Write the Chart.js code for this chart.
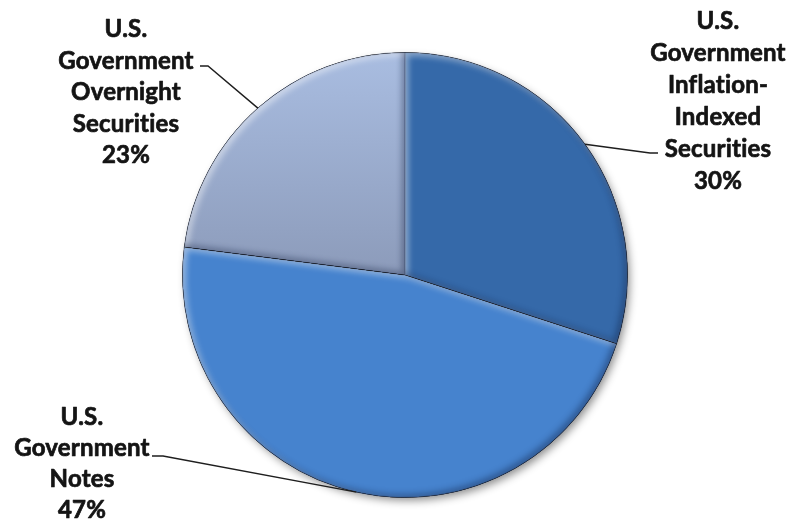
<!DOCTYPE html>
<html>
<head>
<meta charset="utf-8">
<script src="https://cdn.jsdelivr.net/npm/chart.js@4/dist/chart.umd.min.js"></script>
<style>
  html, body { margin: 0; padding: 0; background: #ffffff; }
  canvas { display: block; }
</style>
</head>
<body>
<canvas id="pie" width="787" height="521"></canvas>
<script>
// Holdings by security type, clockwise from 12 o'clock
const categories = [
  'U.S. Government Inflation-Indexed Securities',
  'U.S. Government Notes',
  'U.S. Government Overnight Securities'
];
const shares = [30, 47, 23];
const labelLines = [
  ['U.S.', 'Government', 'Inflation-', 'Indexed', 'Securities'],
  ['U.S.', 'Government', 'Notes'],
  ['U.S.', 'Government', 'Overnight', 'Securities']
];
const sliceColors = ['#3569a9', '#4683ce', '#9cafd3'];

// Where each callout sits: text centre, first baseline, line step, leader elbow
const callouts = [
  { cx: 718, base: 29,    step: 31.9, elbowX: 650, endX: 658, lineY: 153 },
  { cx: 82,  base: 424.5, step: 31.3, elbowX: 163, endX: 152, lineY: 456 },
  { cx: 126, base: 37,    step: 31.5, elbowX: 208, endX: 200, lineY: 66 }
];

const FONT = 'bold 24px Lato, "Liberation Sans", sans-serif';

function slicePath(ctx, p) {
  ctx.beginPath();
  ctx.moveTo(p.x, p.y);
  ctx.arc(p.x, p.y, p.outerRadius, p.startAngle, p.endAngle);
  ctx.closePath();
}

// Soft drop shadow under the whole disc
const discShadow = {
  id: 'discShadow',
  beforeDatasetsDraw(chart) {
    const arcs = chart.getDatasetMeta(0).data;
    if (!arcs.length) return;
    const p = arcs[0].getProps(['x', 'y', 'outerRadius'], true);
    const ctx = chart.ctx;
    ctx.save();
    ctx.shadowColor = 'rgba(0,0,0,0.45)';
    ctx.shadowBlur = 9;
    ctx.shadowOffsetX = 3;
    ctx.shadowOffsetY = 4;
    ctx.fillStyle = '#3a6aa8';
    ctx.beginPath();
    ctx.arc(p.x, p.y, p.outerRadius - 1, 0, Math.PI * 2);
    ctx.fill();
    ctx.restore();
  }
};

// Bevelled rims: light glow on upper-left edges, dark on lower-right edges
const bevel = {
  id: 'bevel',
  afterDatasetsDraw(chart) {
    const ctx = chart.ctx;
    chart.getDatasetMeta(0).data.forEach(arc => {
      const p = arc.getProps(['x', 'y', 'startAngle', 'endAngle', 'outerRadius'], true);
      const passes = [
        { color: 'rgba(255,255,255,0.5)', dx: 3, dy: 3 },
        { color: 'rgba(10,25,60,0.4)', dx: -3, dy: -3 }
      ];
      passes.forEach(s => {
        ctx.save();
        slicePath(ctx, p);
        ctx.clip();
        ctx.beginPath();
        ctx.rect(-2000, -2000, 5000, 5000);
        ctx.moveTo(p.x, p.y);
        ctx.arc(p.x, p.y, p.outerRadius, p.startAngle, p.endAngle);
        ctx.closePath();
        ctx.shadowColor = s.color;
        ctx.shadowBlur = 6;
        ctx.shadowOffsetX = s.dx;
        ctx.shadowOffsetY = s.dy;
        ctx.fillStyle = '#000';
        ctx.fill('evenodd');
        ctx.restore();
      });
    });
  }
};

// Callout text with leader lines from each slice's mid-angle on the rim
const callout = {
  id: 'callout',
  afterDraw(chart) {
    const ctx = chart.ctx;
    chart.getDatasetMeta(0).data.forEach((arc, i) => {
      const p = arc.getProps(['x', 'y', 'startAngle', 'endAngle', 'outerRadius'], true);
      const mid = (p.startAngle + p.endAngle) / 2;
      const ax = p.x + Math.cos(mid) * p.outerRadius;
      const ay = p.y + Math.sin(mid) * p.outerRadius;
      const c = callouts[i];

      ctx.save();
      ctx.strokeStyle = '#1e1e1e';
      ctx.lineWidth = 1.4;
      ctx.beginPath();
      ctx.moveTo(ax, ay);
      ctx.lineTo(c.elbowX, c.lineY);
      ctx.lineTo(c.endX, c.lineY);
      ctx.stroke();

      ctx.fillStyle = '#141414';
      ctx.strokeStyle = '#141414';
      ctx.lineWidth = 0.7;
      ctx.lineJoin = 'round';
      ctx.font = FONT;
      ctx.letterSpacing = '0.2px';
      ctx.textAlign = 'center';
      ctx.textBaseline = 'alphabetic';
      const lines = labelLines[i].concat([shares[i] + '%']);
      lines.forEach((t, k) => {
        const y = c.base + k * c.step;
        ctx.fillText(t, c.cx, y);
        ctx.strokeText(t, c.cx, y);
      });
      ctx.restore();
    });
  }
};

// Solid fills, except the overnight slice which fades from light blue to grey-blue
function sliceFill(context) {
  const i = context.dataIndex;
  const area = context.chart.chartArea;
  if (i !== 2 || !area) return sliceColors[i];
  const g = context.chart.ctx.createLinearGradient(0, area.top, 0, area.top + area.height / 2);
  g.addColorStop(0, '#a9bde1');
  g.addColorStop(1, '#8c9bba');
  return g;
}

new Chart(document.getElementById('pie'), {
  type: 'pie',
  data: {
    labels: categories,
    datasets: [{
      data: shares,
      backgroundColor: sliceFill,
      borderColor: 'rgba(30,50,90,0.55)',
      borderWidth: 1,
      hoverOffset: 0,
      offset: 0
    }]
  },
  options: {
    responsive: false,
    animation: false,
    events: [],
    rotation: 0,
    layout: { padding: { top: 52, bottom: 23, left: 182, right: 159 } },
    plugins: {
      legend: { display: false },
      tooltip: { enabled: false },
      title: { display: false }
    }
  },
  plugins: [discShadow, bevel, callout]
});
</script>
</body>
</html>
